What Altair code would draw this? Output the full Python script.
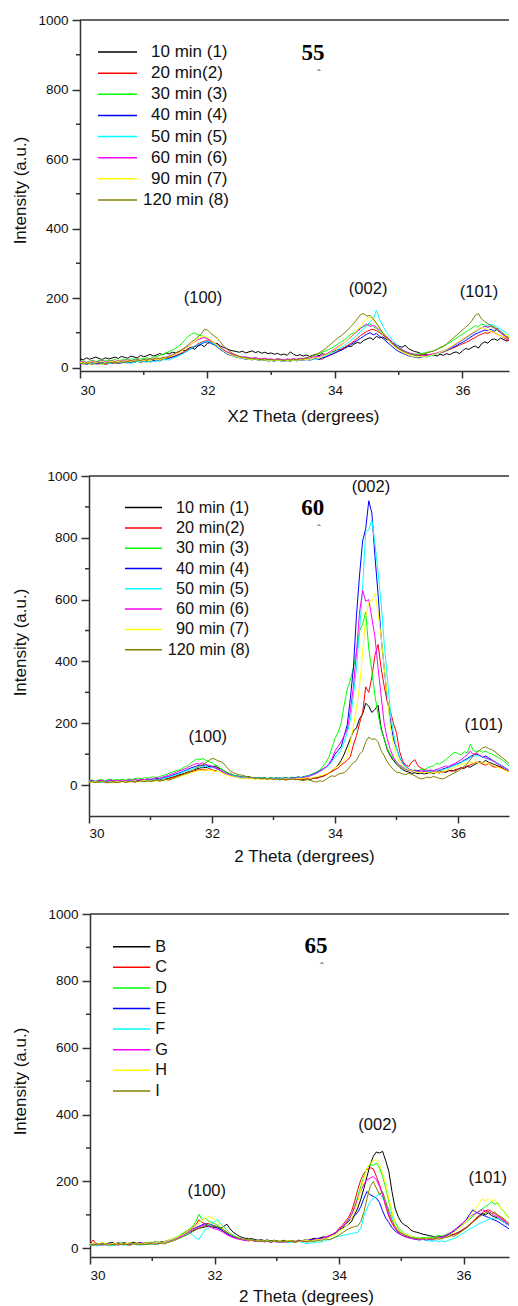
import altair as alt
import pandas as pd

# ---------------- data ----------------
SCAN_START = 30.0
SCAN_STEP = 0.05
N_POINTS = 141
TWO_THETA = [round(SCAN_START + SCAN_STEP * i, 2) for i in range(N_POINTS)]

COLORS = ["#000000", "#ff0000", "#00ff00", "#0000ff", "#00ffff", "#ff00ff", "#ffff00", "#808000"]
LABELS_TIME = ["10 min (1)", "20 min(2)", "30 min (3)", "40 min (4)",
               "50 min (5)", "60 min (6)", "90 min (7)", "120 min (8)"]
LABELS_LETTER = ["B", "C", "D", "E", "F", "G", "H", "I"]
PEAK_LABELS = ["(100)", "(002)", "(101)"]
X_MAJOR = [30, 32, 34, 36]
X_MINOR = [31, 33, 35]
Y_MAJOR = [0, 200, 400, 600, 800, 1000]
Y_MINOR = [100, 300, 500, 700, 900]

# ---- panel 55 ----
P1_BLACK = [25,22,28,24,27,30,26,23,28,25, 27,30,26,32,29,27,33,30,28,35, 31,34,38,33,36,40,37,42,39,44,
            42,46,50,48,55,58,52,62,66,60, 70,72,66,70,62,58,55,50,48,46, 44,47,42,45,48,43,46,41,44,40,
            42,38,41,36,39,35,45,38,34,37, 33,36,32,35,38,34,40,37,42,45, 48,52,50,56,62,60,68,72,70,78,
            82,86,80,90,85,88,82,78,72,66, 62,58,64,55,50,46,44,40,38,36, 34,36,33,38,35,40,37,42,45,40,
            48,55,52,58,62,56,68,74,70,80, 82,78,85,80,76,82,74,70,66,64,60]
P1_RED = [12,15,11,14,16,12,10,13,9,11, 14,12,16,13,15,17,14,16,18,15, 17,19,16,20,22,19,23,26,28,30,
          34,38,42,48,52,58,62,68,72,76, 78,74,70,64,56,50,45,40,36,33, 30,28,26,27,24,26,23,22,24,21,
          22,20,23,21,19,22,20,23,21,24, 23,25,22,26,28,25,24,30,34,38, 42,48,54,58,64,70,76,84,92,98,
          104,108,110,106,100,94,86,78,70,62, 55,50,46,42,38,36,34,35,33,35, 36,38,40,42,44,48,52,56,60,64,
          68,72,76,82,86,92,96,100,98,104, 100,96,92,86,80,75,70,66,60,56,52]
P1_GREEN = [16,19,15,18,21,17,20,22,18,21, 20,23,19,22,24,21,25,23,26,24, 26,28,25,30,32,35,38,42,46,50,
            55,62,70,80,90,96,100,94,92,88, 84,78,70,62,55,48,42,38,34,32, 30,28,27,25,24,26,23,22,24,21,
            22,20,23,21,19,22,20,23,21,24, 25,28,30,33,36,40,44,48,52,56, 62,68,74,80,88,96,100,108,114,118,
            122,125,118,112,104,96,88,78,70,62, 56,50,46,42,40,38,39,40,42,44, 46,48,52,56,60,66,72,78,84,90,
            96,102,108,114,120,118,125,122,116,118, 112,106,100,94,88,82,76,72,66,62,58]
P1_BLUE = [10,13,9,12,14,10,12,15,11,13, 12,15,11,14,16,13,17,15,18,16, 18,20,17,21,19,23,25,22,27,30,
           33,36,40,44,50,55,60,64,68,72, 74,70,66,60,52,46,40,36,33,30, 28,26,24,25,22,24,21,20,22,19,
           20,18,21,19,17,20,18,21,19,22, 21,23,20,24,26,23,28,30,34,38, 42,46,50,55,60,66,72,78,84,90,
           96,100,94,98,90,84,76,68,60,52, 46,42,38,34,32,30,28,30,32,34, 36,38,40,43,46,50,54,58,62,68,
           72,78,84,90,96,100,104,108,106,110, 104,112,100,94,88,80,74,68,62,58,54]
P1_CYAN = [14,11,15,12,10,13,16,12,14,11, 13,16,12,15,17,14,12,15,18,16, 17,15,19,17,20,18,22,24,21,26,
           30,34,38,44,50,56,62,66,70,74, 76,72,68,62,54,48,42,38,34,31, 29,27,25,26,23,25,22,21,23,20,
           21,19,22,20,18,21,19,22,20,23, 22,24,21,25,23,27,30,34,38,42, 46,52,58,64,70,78,86,94,104,112,
           120,132,140,165,138,120,104,92,80,70, 60,52,46,42,38,35,33,31,32,30, 34,36,39,42,46,50,55,60,66,72,
           78,84,90,96,102,108,114,120,122,125, 120,116,110,104,98,90,82,76,70,64,60]
P1_MAGENTA = [15,18,14,16,19,15,17,20,16,18, 19,17,21,18,20,22,19,21,23,20, 22,24,21,25,27,24,28,30,33,36,
              40,44,50,56,62,68,74,80,84,86, 82,78,72,66,58,52,46,42,38,35, 32,30,31,28,27,29,26,25,27,24,
              25,23,26,24,22,25,23,26,24,27, 26,28,27,30,32,31,35,38,42,48, 54,60,66,72,80,88,96,104,112,120,
              125,118,122,116,108,100,92,82,72,64, 57,52,47,43,40,38,37,36,35,36, 38,40,42,45,48,52,56,62,68,74,
              80,86,92,98,104,110,114,118,116,120, 114,108,100,92,85,78,72,66,60,50,56]
P1_YELLOW = [13,16,12,15,17,13,15,18,14,16, 17,15,19,16,18,20,17,19,21,18, 20,22,19,23,25,22,26,28,31,34,
             38,42,48,54,60,68,75,82,88,90, 86,80,72,64,56,48,42,38,34,31, 29,27,26,24,23,25,22,21,23,20,
             21,19,22,20,18,21,19,22,20,23, 22,24,21,26,28,27,32,36,40,46, 52,58,64,72,80,90,98,108,118,130,
             140,145,136,126,112,100,88,76,66,58, 50,45,40,36,33,31,30,32,30,33, 35,38,40,44,48,52,58,64,70,76,
             82,88,94,100,106,110,115,112,108,104, 100,96,92,88,96,80,74,70,64,62,58]
P1_OLIVE = [12,10,13,11,9,12,14,10,12,15, 14,16,13,17,15,18,20,17,22,19, 24,21,26,23,28,25,30,27,32,36,
            42,46,52,58,66,74,80,88,96,110, 108,98,92,84,74,62,54,46,40,36, 32,30,28,27,25,26,24,23,25,22,
            23,21,24,22,20,23,21,24,22,25, 24,27,30,34,38,42,48,54,62,70, 78,86,92,100,108,118,128,140,152,155,
            148,150,140,128,114,100,88,78,68,60, 54,48,44,40,38,36,35,37,39,42, 45,48,52,58,62,68,76,84,92,100,
            108,116,124,135,150,155,140,132,126,120, 116,110,104,96,88,80,74,68,62,58,55]

# ---- panel 60 ----
P2_BLACK = [12,9,11,8,10,13,9,11,8,10, 11,13,10,12,14,11,13,15,12,14, 16,14,17,19,16,20,22,25,28,32,
            35,38,42,45,48,52,55,58,56,60, 58,62,56,52,46,40,36,32,30,28, 26,25,27,24,23,25,22,24,21,23,
            22,20,23,21,19,18,22,20,18,17, 19,21,18,22,24,26,28,32,40,45, 55,65,80,100,125,150,175,185,215,230,
            265,255,235,245,258,185,150,115,95,80, 68,58,50,45,42,38,40,37,39,36, 38,40,37,42,39,44,41,46,48,45,
            52,56,54,60,58,64,70,76,72,80, 74,70,66,62,58,52,48,44,40,35,30]
P2_RED = [10,12,9,11,13,10,8,11,9,12, 10,12,9,13,11,10,14,12,13,15, 12,14,16,13,17,19,21,24,27,30,
          33,36,38,42,45,48,50,52,48,54, 50,46,52,44,40,35,38,30,28,26, 24,26,23,25,22,24,21,23,20,22,
          21,19,22,20,18,21,19,22,20,18, 20,22,19,24,21,26,30,33,38,44, 50,55,65,72,80,92,130,160,200,235,
          318,300,350,420,455,380,320,270,240,200, 170,110,78,65,60,75,82,62,55,50, 48,45,47,44,46,42,45,48,44,50,
          52,55,58,62,65,70,75,72,68,64, 70,62,58,60,55,50,46,42,38,34,30]
P2_GREEN = [14,17,13,16,18,15,17,19,16,18, 17,19,16,20,18,21,23,20,24,22, 25,27,24,28,31,34,38,42,45,48,
            52,58,62,70,78,85,82,86,80,76, 72,66,60,52,45,40,36,32,30,28, 26,25,27,24,23,25,22,24,21,23,
            22,24,21,23,25,22,26,24,27,25, 28,30,33,38,42,48,60,72,90,120, 150,170,200,260,310,340,380,430,500,520,
            560,440,370,290,230,180,150,120,100,85, 72,62,55,50,48,46,50,45,52,48, 55,60,62,70,68,75,82,90,100,106,
            102,98,108,104,132,112,108,112,106,110, 104,100,95,90,84,76,68,58,48,38,28]
P2_BLUE = [11,14,10,13,15,11,13,16,12,14, 13,15,12,16,14,17,15,18,16,19, 18,20,22,19,23,26,28,31,35,38,
           42,46,50,55,58,62,65,63,66,60, 62,56,52,46,40,36,33,30,28,26, 25,24,26,23,22,24,21,23,20,22,
           21,23,20,22,24,21,25,23,26,24, 27,29,32,36,40,46,52,58,66,80, 100,112,124,160,195,280,380,550,680,790,
           830,920,880,740,620,480,380,280,210,150, 120,90,72,60,52,48,45,47,44,46, 43,48,45,50,47,52,55,58,62,66,
           70,74,80,86,92,98,100,96,90,94, 88,82,76,70,64,58,52,46,40,34,28]
P2_CYAN = [13,10,14,11,9,12,15,11,13,10, 12,15,11,14,16,13,11,14,17,15, 16,18,15,19,21,24,26,29,32,36,
           40,44,47,50,54,57,60,58,62,56, 58,54,50,45,40,36,33,30,28,26, 24,26,23,25,22,24,21,23,20,22,
           21,19,22,20,23,21,24,22,25,23, 26,28,31,34,38,44,50,56,64,76, 90,100,113,140,170,210,290,380,500,640,
           820,825,858,780,690,590,460,350,240,170, 120,90,70,58,50,46,44,42,45,43, 46,44,48,45,50,48,53,56,60,64,
           68,72,78,82,88,92,96,94,90,86, 84,80,76,70,64,58,52,46,40,34,28]
P2_MAGENTA = [12,15,11,14,16,12,14,17,13,15, 14,16,13,17,15,18,16,19,17,20, 19,21,24,22,26,29,32,36,40,44,
              48,52,56,62,66,70,68,72,66,64, 60,56,52,46,40,35,31,28,26,24, 22,24,21,23,20,22,19,21,18,20,
              19,21,18,20,22,19,23,21,24,22, 25,27,30,34,38,44,50,58,68,85, 110,125,140,160,180,240,320,430,560,630,
              595,600,540,480,380,290,200,150,115,90, 75,65,58,52,48,45,47,44,46,43, 45,48,46,50,54,58,62,60,66,70,
              76,82,90,98,110,100,104,96,92,88, 84,80,74,68,62,56,50,44,38,32,27]
P2_YELLOW = [10,8,11,9,12,10,8,11,9,12, 10,13,11,9,12,14,11,13,15,12, 14,12,15,13,16,18,15,20,23,26,
             29,32,36,39,42,45,48,46,50,47, 48,44,46,40,36,32,29,27,25,23, 21,23,20,22,19,21,18,20,17,19,
             18,20,17,19,21,18,20,19,22,20, 22,24,21,25,27,30,32,36,40,48, 55,62,72,80,95,140,190,250,320,430,
             545,590,595,620,560,480,380,290,190,130, 95,75,62,55,50,46,44,40,42,39, 41,38,40,42,39,44,46,50,54,58,
             62,66,70,68,74,72,76,70,74,68, 72,66,62,58,54,50,46,42,38,34,30]
P2_OLIVE = [9,12,8,11,13,9,7,10,12,8, 10,12,9,11,13,10,12,14,11,13, 12,14,16,13,15,18,16,20,24,28,
            32,36,40,44,48,56,62,66,72,80, 86,84,78,76,68,55,45,40,36,33, 32,28,26,24,22,23,20,22,19,21,
            18,20,17,19,16,18,20,17,19,16, 14,18,15,12,10,14,12,18,25,30, 28,35,38,40,48,62,72,80,100,110,
            140,155,148,150,140,112,95,75,62,50, 42,40,36,34,38,35,30,24,20,22, 26,24,28,25,22,20,24,30,35,40,
            45,52,60,70,82,95,105,112,120,124, 118,115,108,100,92,84,76,66,56,46,38]

# ---- panel 65 ----
P3_B = [12,15,11,14,16,13,15,18,14,16, 15,17,14,16,18,15,17,14,16,18, 17,19,16,20,18,22,24,27,30,34,
        38,42,46,52,56,60,62,64,66,65, 62,64,60,66,72,58,48,42,36,32, 30,28,29,26,24,26,23,25,22,24,
        23,21,24,22,20,23,21,24,22,25, 24,27,30,28,32,34,31,36,40,44, 55,60,65,72,80,100,120,147,180,215,
        250,275,288,285,290,262,230,170,120,95, 78,70,65,55,50,48,45,42,40,38, 36,34,37,35,38,36,40,42,46,50,
        56,62,70,78,88,96,104,100,106,98, 94,90,84,78,72,66,60,55,50,46,42]
P3_C = [11,25,12,13,15,12,14,11,13,10, 12,14,11,9,13,15,12,14,16,13, 15,17,14,18,20,22,25,28,32,38,
        44,50,56,62,70,85,78,72,75,70, 66,62,56,50,44,38,34,30,28,26, 24,26,23,22,24,21,20,22,19,21,
        20,18,21,19,22,20,18,21,23,20, 22,25,23,27,29,32,35,38,42,48, 60,68,80,92,110,140,175,205,225,235,
        241,238,215,190,160,125,95,75,60,50, 45,40,37,34,32,30,28,30,27,29, 28,30,32,29,33,35,38,42,46,52,
        58,64,72,80,90,98,106,112,115,110, 104,98,92,84,76,68,60,54,48,42,38]
P3_D = [14,11,15,12,10,13,16,12,9,13, 12,15,13,11,14,16,13,15,17,14, 16,18,20,17,21,24,27,30,34,40,
        46,52,58,66,80,102,86,90,82,78, 74,68,62,55,48,42,37,33,30,27, 25,24,26,23,22,24,21,23,20,22,
        21,19,22,20,18,21,19,22,20,23, 22,24,23,26,28,30,33,36,40,46, 55,62,72,84,100,125,155,185,215,240,
        250,248,255,240,215,180,140,105,80,62, 52,45,40,36,34,32,30,33,31,34, 32,35,38,36,40,44,48,54,60,66,
        72,80,88,96,104,112,118,125,130,140, 132,136,120,110,98,86,76,66,58,50,44]
P3_E = [10,13,9,12,14,11,13,10,12,14, 13,11,14,12,15,13,16,14,12,15, 14,16,18,15,19,22,24,28,32,36,
        40,46,52,58,62,66,70,74,68,72, 64,60,56,50,44,38,34,31,28,26, 24,23,25,22,21,23,20,22,19,21,
        20,22,19,21,23,20,22,24,21,23, 22,25,27,30,28,34,30,38,42,48, 56,64,72,80,90,98,107,125,150,170,
        160,155,150,137,112,90,77,62,52,45, 40,36,33,30,28,26,25,27,24,26, 25,28,30,33,36,40,45,52,60,68,
        76,88,102,115,108,104,100,96,92,88, 84,80,74,68,62,56,50,46,42,38,34]
P3_F = [8,11,7,10,12,9,11,8,10,12, 11,9,12,10,13,11,9,12,14,11, 13,15,12,16,18,20,23,26,30,34,
        38,42,46,40,30,27,42,55,60,74, 80,87,72,64,54,46,40,35,31,28, 26,24,25,22,21,23,20,22,19,21,
        20,18,21,19,17,20,18,21,19,16, 14,17,16,19,18,21,24,27,30,34, 36,38,40,42,44,46,47,60,97,120,
        140,150,155,166,150,135,117,95,75,57, 48,42,38,34,31,29,27,26,24,22, 21,24,20,22,19,24,26,30,34,40,
        46,52,58,62,68,74,78,82,86,90, 88,90,84,78,72,66,60,54,48,42,38]
P3_G = [13,10,14,11,9,12,15,11,13,10, 12,14,11,13,15,12,14,16,13,15, 14,16,18,15,19,21,24,27,31,35,
        40,46,50,56,60,64,68,70,66,62, 58,56,52,46,40,36,32,29,27,25, 23,22,24,21,20,22,19,21,18,20,
        19,21,18,20,22,19,21,23,20,22, 21,24,26,28,27,31,34,38,42,48, 56,64,74,86,100,122,148,172,192,205,
        210,215,205,185,160,130,100,78,60,48, 40,35,32,30,28,27,26,28,25,27, 26,28,31,34,37,42,48,55,62,70,
        78,86,94,100,106,110,115,112,108,104, 98,94,88,82,75,68,60,54,48,42,36]
P3_H = [12,15,11,14,17,13,11,14,16,12, 14,12,15,17,13,16,14,12,15,17, 15,17,19,16,20,23,26,29,33,38,
        42,48,54,60,68,76,84,90,95,92, 86,78,70,60,52,44,38,34,30,28, 26,24,25,23,22,24,21,23,20,22,
        21,23,20,22,24,21,23,20,22,24, 23,21,24,26,25,28,30,34,38,42, 50,56,64,74,88,110,140,175,210,240,
        255,262,265,250,225,190,150,110,75,55, 48,44,40,36,33,30,29,31,28,30, 29,27,30,28,32,36,42,48,56,64,
        72,82,94,106,120,135,148,142,150,140, 146,132,120,108,96,84,74,66,58,52,46]
P3_I = [11,9,12,10,13,11,9,12,10,13, 11,13,10,12,14,11,13,10,12,14, 13,11,14,16,13,17,20,23,27,31,
        35,40,45,50,55,60,64,68,70,66, 68,64,60,55,48,42,37,33,30,28, 26,24,25,23,21,23,20,22,19,21,
        20,18,21,19,22,20,18,21,23,20, 19,22,20,24,22,26,28,25,30,34, 40,46,52,58,62,65,67,80,110,150,
        185,200,180,160,170,140,110,85,65,52, 45,40,36,33,31,29,28,30,27,29, 28,30,27,29,32,34,38,36,42,48,
        55,62,70,78,86,94,100,106,110,104, 108,100,94,88,80,72,64,58,52,46,42]

P1_SERIES = [P1_BLACK, P1_RED, P1_GREEN, P1_BLUE, P1_CYAN, P1_MAGENTA, P1_YELLOW, P1_OLIVE]
P2_SERIES = [P2_BLACK, P2_RED, P2_GREEN, P2_BLUE, P2_CYAN, P2_MAGENTA, P2_YELLOW, P2_OLIVE]
P3_SERIES = [P3_B, P3_C, P3_D, P3_E, P3_F, P3_G, P3_H, P3_I]

# annotation positions (data coordinates)
P1_PEAK_X, P1_PEAK_Y = [31.93, 34.52, 36.26], [201, 227, 218]
P2_PEAK_X, P2_PEAK_Y = [31.93, 34.585, 36.42], [155, 964, 194]
P3_PEAK_X, P3_PEAK_Y = [31.875, 34.62, 36.39], [172, 370, 211]
TEMPS = ["55", "60", "65"]
TEMP_X = [33.655, 33.64, 33.63]
TEMP_Y = [905, 896, 905]

for name, group in [("P1", P1_SERIES), ("P2", P2_SERIES), ("P3", P3_SERIES)]:
    for k, s in enumerate(group):
        assert len(s) == N_POINTS, f"{name} series {k} has {len(s)} values"

# ---------------- style ----------------
SANS = "Liberation Sans"
SERIF = "Liberation Serif"
AXIS_COLOR = "#333333"
TEXT_COLOR = "#111111"
ONE = pd.DataFrame({"a": [0]})
VIEW_W = 429  # every panel shares the same origin; its plot starts at x0 inside it


def make_panel(labels, series, xdom, ydom, x0, height, xtitle,
               x_label_pad, x_title_pad, x_title_x, y_title_pad, y_title_y,
               leg_x0, leg_x1, leg_text_x, leg_text_x_last, leg_y0, leg_step, leg_font,
               peak_x, peak_y, temp, temp_x, temp_y, extra_bottom=0):
    rows = []
    for lab, vals in zip(labels, series):
        for t, v in zip(TWO_THETA, vals):
            rows.append({"x": t, "y": v, "s": lab})
    df = pd.DataFrame(rows)

    xs = alt.Scale(domain=xdom, range=[x0, VIEW_W], nice=False, zero=False)
    ys = alt.Scale(domain=ydom, nice=False, zero=False)

    x_axis = alt.Axis(values=X_MAJOR, tickSize=7, labelPadding=x_label_pad, format="d",
                      title=xtitle, titlePadding=x_title_pad, titleX=x_title_x)
    y_axis = alt.Axis(values=Y_MAJOR, tickSize=8, labelPadding=4, format="d",
                      title="Intensity (a.u.)", titlePadding=y_title_pad, titleY=y_title_y,
                      minExtent=40, maxExtent=40, offset=-x0)

    def X(field="x"):
        return alt.X(f"{field}:Q", scale=xs, axis=x_axis)

    def Y(field="y"):
        return alt.Y(f"{field}:Q", scale=ys, axis=y_axis)

    lines = alt.Chart(df).mark_line(strokeWidth=1, clip=True).encode(
        x=X(), y=Y(),
        color=alt.Color("s:N", sort=labels,
                        scale=alt.Scale(domain=labels, range=COLORS), legend=None),
    )

    layers = [lines]

    # frame line along the top of the plot
    layers.append(alt.Chart(ONE).mark_rule(color=AXIS_COLOR, strokeWidth=1.5).encode(
        x=alt.value(x0), x2=alt.value(VIEW_W), y=alt.value(0)))

    # minor ticks
    layers.append(alt.Chart(pd.DataFrame({"x": X_MINOR})).mark_rule(
        color=AXIS_COLOR, strokeWidth=1.5).encode(
        x=X(), y=alt.value(height), y2=alt.value(height + 4)))
    layers.append(alt.Chart(pd.DataFrame({"y": Y_MINOR})).mark_rule(
        color=AXIS_COLOR, strokeWidth=1.5).encode(
        y=Y(), x=alt.value(x0), x2=alt.value(x0 - 4)))

    # invisible spacer below the axis title (sets the gap to the next panel)
    if extra_bottom:
        layers.append(alt.Chart(ONE).mark_rule(opacity=0).encode(
            x=alt.value(x0), x2=alt.value(x0 + 1), y=alt.value(height + extra_bottom)))

    # legend (drawn by hand, Origin style)
    for k, (lab, col) in enumerate(zip(labels, COLORS)):
        yk = leg_y0 + k * leg_step
        tx = leg_text_x_last if k == len(labels) - 1 else leg_text_x
        layers.append(alt.Chart(ONE).mark_rule(color=col, strokeWidth=1.5).encode(
            x=alt.value(leg_x0), x2=alt.value(leg_x1), y=alt.value(yk)))
        layers.append(alt.Chart(ONE).mark_text(
            font=SANS, fontSize=leg_font, color=TEXT_COLOR, align="left", baseline="middle",
            text=lab).encode(x=alt.value(tx), y=alt.value(yk)))

    peaks_df = pd.DataFrame({"x": peak_x, "y": peak_y, "t": PEAK_LABELS})
    layers.append(alt.Chart(peaks_df).mark_text(
        font=SANS, fontSize=16.5, color=TEXT_COLOR, baseline="middle"
    ).encode(x=X(), y=Y(), text="t:N"))

    temp_df = pd.DataFrame({"x": [temp_x], "y": [temp_y], "t": [temp]})
    layers.append(alt.Chart(temp_df).mark_text(
        font=SERIF, fontSize=23, fontWeight="bold", color="#000000", baseline="middle"
    ).encode(x=X(), y=Y(), text="t:N"))
    layers.append(alt.Chart(temp_df).mark_text(
        font=SERIF, fontSize=10, color="#000000", baseline="middle", dx=6, dy=21, text="ˆ"
    ).encode(x=X(), y=Y()))

    return alt.layer(*layers).properties(width=VIEW_W, height=height)


p1 = make_panel(LABELS_TIME, P1_SERIES, [30, 36.73], [-10, 1000], 0, 351,
                "X2 Theta (dergrees)", 5, 12, 223, 11, 170,
                18, 57, 71, 63, 32, 21.14, 17,
                P1_PEAK_X, P1_PEAK_Y, TEMPS[0], TEMP_X[0], TEMP_Y[0], extra_bottom=55.5)
p2 = make_panel(LABELS_TIME, P2_SERIES, [30, 36.83], [-100, 1000], 9, 340,
                "2 Theta (dergrees)", 3, 9, 224, 20, 166,
                45, 82, 96, 87.7, 31.6, 20.3, 16.3,
                P2_PEAK_X, P2_PEAK_Y, TEMPS[1], TEMP_X[1], TEMP_Y[1])
p3 = make_panel(LABELS_LETTER, P3_SERIES, [30, 36.73], [-26, 1000], 10, 343,
                "2 Theta (degrees)", 4, 7, 226, 21, 167,
                33, 70.3, 75.3, 75.3, 32.7, 20.6, 16.3,
                P3_PEAK_X, P3_PEAK_Y, TEMPS[2], TEMP_X[2], TEMP_Y[2])

chart = alt.vconcat(p1, p2, p3, spacing=42).resolve_scale(color="independent").properties(
    padding={"left": 3, "top": 5, "right": 0, "bottom": 0}
).configure_view(stroke=None).configure_axis(
    grid=False,
    domainColor=AXIS_COLOR, domainWidth=1.5,
    tickColor=AXIS_COLOR, tickWidth=1.5,
    labelFont=SANS, labelFontSize=13.5, labelColor=TEXT_COLOR,
    titleFont=SANS, titleFontSize=17, titleFontWeight="normal", titleColor=TEXT_COLOR,
)

chart.save("out.html", embed_options={"renderer": "svg", "actions": False})
